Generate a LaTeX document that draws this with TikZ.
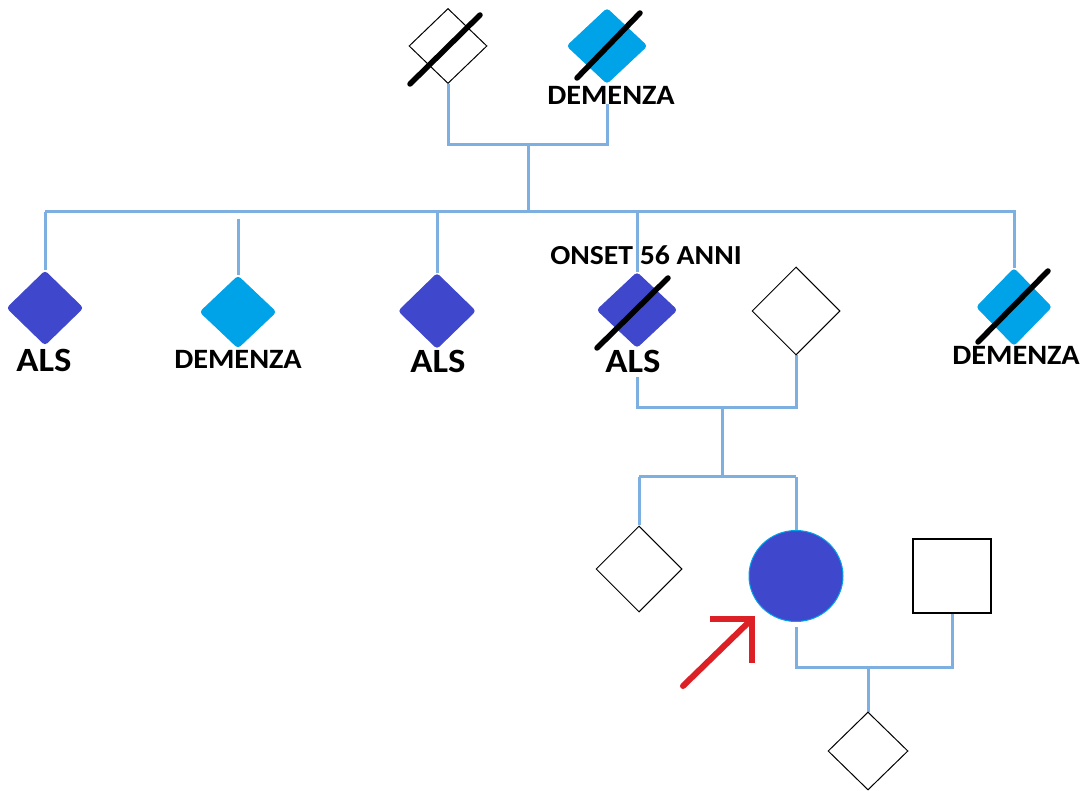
\documentclass[tikz,border=0pt]{standalone}
\usepackage{fontspec}
\setmainfont{Carlito}
\usetikzlibrary{shapes.geometric,calc,backgrounds}
\definecolor{alsblue}{HTML}{3F48CC}
\definecolor{demcyan}{HTML}{00A2E8}
\definecolor{kinline}{HTML}{7DB0E0}
\definecolor{probred}{HTML}{DD1F26}

\tikzset{
  link/.style={draw=kinline,line width=3pt},
  blankd/.style={diamond,draw=black,line width=1pt,fill=white,inner sep=0pt},
  alsd/.style={diamond,fill=alsblue,draw=alsblue,line width=1pt,rounded corners=3pt,inner sep=0pt},
  demd/.style={diamond,fill=demcyan,draw=demcyan,line width=1pt,rounded corners=3pt,inner sep=0pt},
  dsz/.style 2 args={minimum width=#1,minimum height=#2},
  slash/.style={draw=black,line width=5.5pt,line cap=round},
  biglab/.style={inner sep=0pt,font=\bfseries\fontsize{34}{36}\selectfont},
  midlab/.style={inner sep=0pt,font=\bfseries\fontsize{28}{30}\selectfont},
  onsetlab/.style={inner sep=0pt,font=\bfseries\fontsize{27.5}{30}\selectfont},
}
\newcommand{\wide}[1]{\scalebox{1.08}[1]{#1}}

\begin{document}
\begin{tikzpicture}[x=1pt,y=-1pt]
\useasboundingbox (0,0) rectangle (1088,791);

% first generation
\node[blankd,dsz={78}{75}] (ga) at (448,46) {};
\node[demd,dsz={80}{75}] (gb) at (607,46) {};
\draw[slash] ($(ga)+(-38,38)$) -- ($(ga)+(32,-31)$);
\draw[slash] ($(gb)+(-30,32)$) -- ($(gb)+(33,-33)$);
\node[midlab] (gblab) at (611,95) {\wide{DEMENZA}};

% second generation
\node[alsd,dsz={76}{74}] (p1) at (45,308) {};
\node[biglab] (p1lab) at (44,360) {\wide{ALS}};
\node[demd,dsz={76}{72}] (p2) at (238,312) {};
\node[midlab] (p2lab) at (238,359) {\wide{DEMENZA}};
\node[alsd,dsz={77}{75}] (p3) at (437,311) {};
\node[biglab] (p3lab) at (438,361) {\wide{ALS}};
\node[alsd,dsz={80}{75}] (p4) at (637,310) {};
\draw[slash] ($(p4)+(-40,38)$) -- ($(p4)+(31,-32)$);
\node[onsetlab] (p4on) at (646,255) {\wide{ONSET 56 ANNI}};
\node[biglab] (p4lab) at (633,361) {\wide{ALS}};
\node[blankd,dsz={88}{88}] (sp) at (796,311) {};
\node[demd,dsz={75}{77}] (p6) at (1014,307) {};
\draw[slash] ($(p6)+(-36,35)$) -- ($(p6)+(34,-36)$);
\node[midlab] (p6lab) at (1016,355) {\wide{DEMENZA}};

% third generation
\node[blankd,dsz={86}{86}] (c1) at (639,569) {};
\node[ellipse,fill=alsblue,draw=demcyan,line width=1pt,inner sep=0pt,
      minimum width=94,minimum height=91] (prob) at (796,576) {};
\node[rectangle,draw=black,line width=2pt,fill=white,inner sep=0pt,
      minimum width=78,minimum height=74] (sq) at (952,576) {};

% fourth generation
\node[blankd,dsz={80}{78}] (gc) at (868,751) {};

% junction points of the family lines
\coordinate (mate1) at (528,145);
\coordinate (sib1) at (528,212);
\coordinate (sibL) at (45,212);
\coordinate (sibR) at (1016,212);
\coordinate (gap2) at (238,219);
\coordinate (als4out) at (637,377);
\coordinate (mate2) at (722,408);
\coordinate (sib2) at (722,477);
\coordinate (sib2L) at (639,477);
\coordinate (sib2R) at (796,477);
\coordinate (probout) at (796,627);
\coordinate (mate3) at (868,667);

\begin{scope}[on background layer]
  \fill[white] (0,0) rectangle (1088,791);
  \draw[link] (ga.south) |- (mate1) -| (gb |- gblab.south);
  \draw[link] (mate1) -- (sib1);
  \draw[link] (sibL) -- (sibR);
  \draw[link] (sibL) -- (p1.north);
  \draw[link] (gap2) -- (p2.north);
  \draw[link] (p3.north |- sibL) -- (p3.north);
  \draw[link] (p4.north |- sibL) -- (p4.north);
  \draw[link] (p6.north |- sibR) -- (p6.north);
  \draw[link] (als4out) |- (mate2) -| (sp.south);
  \draw[link] (mate2) -- (sib2);
  \draw[link] (sib2L) -- (sib2R);
  \draw[link] (sib2L) -- (c1.north);
  \draw[link] (sib2R) -- (prob.north);
  \draw[link] (probout) |- (mate3) -| (sq.south);
  \draw[link] (mate3) -- (gc.north);
\end{scope}

% arrow marking the proband
\coordinate (atip) at (752,619);
\coordinate (atail) at (683,686);
\draw[probred,line width=6pt,line cap=round] (atail) -- (atip);
\draw[probred,line width=6pt,miter limit=10] ($(atip)+(-42,0)$) -- (atip) -- ($(atip)+(0,44)$);
\end{tikzpicture}
\end{document}
